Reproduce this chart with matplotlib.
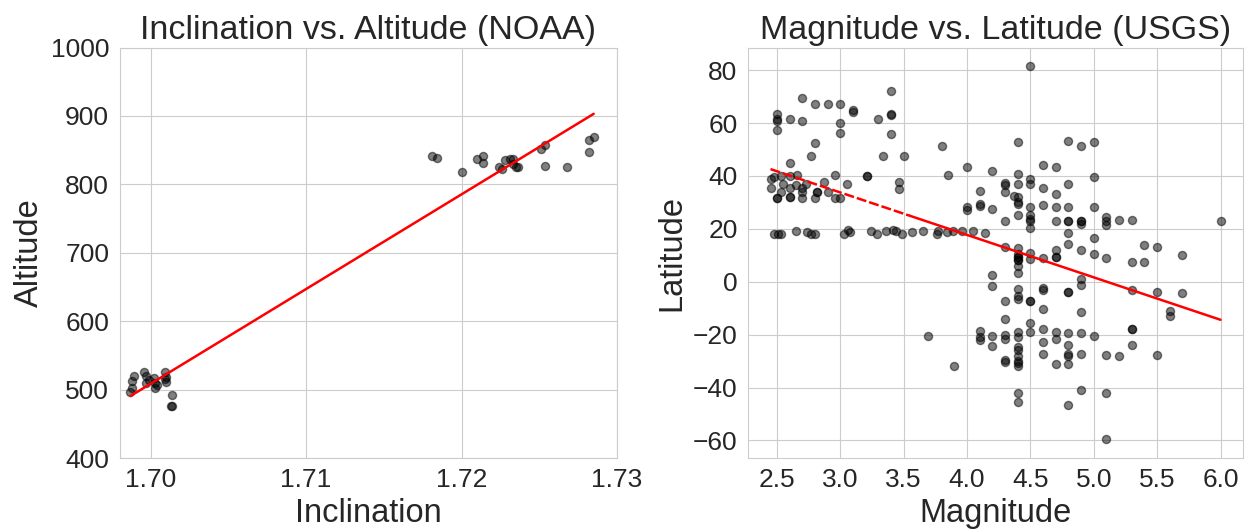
import numpy as np
import matplotlib
matplotlib.use("Agg")
import matplotlib.pyplot as plt
import seaborn as sns

# NOAA satellites: inclination vs altitude
noaa_incl = [1.6987, 1.6988, 1.6988, 1.6989, 1.6996, 1.6997, 1.6997, 1.6999, 1.7002, 1.7003,
             1.7003, 1.7004, 1.7009, 1.7010, 1.7010, 1.7009, 1.7014, 1.7013, 1.7014,
             1.7181, 1.7184, 1.7200, 1.7210, 1.7214, 1.7214, 1.7224, 1.7226, 1.7228, 1.7231,
             1.7233, 1.7233, 1.7235, 1.7236, 1.7251, 1.7254, 1.7254, 1.7268, 1.7282, 1.7285,
             1.7282]
noaa_alt = [496, 503, 512, 520, 525, 520, 510, 514, 517, 510,
            502, 506, 526, 518, 511, 515, 492, 476, 476,
            842, 839, 818, 837, 841, 831, 826, 822, 835, 837,
            837, 830, 826, 826, 851, 858, 827, 826, 865, 869,
            847]
noaa_fit = [13840.0, -23019.4]  # slope, intercept

# USGS earthquakes: magnitude vs latitude
usgs_mag = [2.50, 2.50, 2.50, 2.50, 2.60, 2.70, 2.70, 2.80, 2.90, 3.00, 3.00, 3.00, 3.10, 3.10,
            3.30, 3.40, 3.40, 3.40, 3.40, 2.80, 2.77, 2.60, 3.34, 3.50, 3.80, 3.85, 4.50,
            2.45, 2.45, 2.48, 2.53, 2.60, 2.66, 2.55, 2.60, 2.65, 2.70, 2.70, 2.70, 2.50, 2.50,
            2.60, 2.60, 2.80, 2.82, 2.82, 2.53, 2.73, 2.87, 2.90, 2.96, 2.96, 3.00, 3.05, 3.21,
            3.21, 3.46, 3.46,
            2.48, 2.51, 2.53, 2.65, 2.74, 2.77, 2.80, 3.03, 3.06, 3.08, 3.24, 3.29, 3.36, 3.42,
            3.44, 3.49, 3.57, 3.65, 3.76, 3.77, 3.84, 3.89, 3.96, 4.05, 4.14,
            4.40, 4.80, 4.90, 5.00, 4.00, 4.20, 4.40, 4.60, 4.70, 5.00, 4.50, 4.30, 4.30, 4.40,
            4.50, 4.80, 4.60, 4.10, 4.30, 4.70, 4.37, 4.40, 4.40, 4.40, 4.00, 4.00, 4.10, 4.10,
            4.20, 4.60, 4.70, 4.80, 5.00, 4.50, 4.40, 4.50, 4.50, 4.50, 4.30, 4.70, 4.80, 4.80,
            4.90, 4.90, 4.90, 5.10, 5.10, 5.10, 5.20, 5.30, 6.00, 4.50, 4.80, 5.00, 4.80, 4.90,
            5.00, 5.10, 5.30, 5.40, 5.40, 5.50, 5.70, 4.70, 4.70, 4.70, 4.60, 4.50, 4.50, 4.40,
            4.40, 4.40, 4.40, 4.40, 4.40, 4.40, 4.40, 4.30, 4.20, 4.90,
            3.69, 3.90, 4.20, 4.30, 4.30, 4.10, 4.10, 4.10, 4.20, 4.20, 4.30, 4.30, 4.30, 4.30,
            4.40, 4.40, 4.40, 4.40, 4.40, 4.40, 4.40, 4.40, 4.40, 4.40, 4.40, 4.40, 4.40, 4.50,
            4.50, 4.50, 4.50, 4.60, 4.60, 4.60, 4.60, 4.60, 4.60, 4.70, 4.70, 4.70, 4.80, 4.80,
            4.80, 4.80, 4.80, 4.80, 4.80, 4.80, 4.90, 4.90, 4.90, 4.90, 4.90, 5.00, 5.10, 5.10,
            5.10, 5.20, 5.30, 5.30, 5.30, 5.30, 5.50, 5.50, 5.60, 5.60, 5.70]
usgs_lat = [63.6, 61.7, 60.7, 57.5, 61.7, 69.5, 60.7, 67.3, 67.3, 67.3, 60.0, 56.2, 64.8, 64.0,
            61.7, 72.0, 63.6, 63.0, 55.9, 52.5, 47.7, 44.9, 47.4, 47.7, 51.5, 40.2, 81.5,
            39.0, 35.6, 39.6, 40.1, 40.1, 40.2, 36.8, 35.6, 36.4, 35.6, 33.9, 31.8, 31.8, 31.8,
            32.0, 32.0, 31.8, 33.9, 33.9, 33.9, 37.1, 37.7, 33.9, 40.2, 31.8, 31.8, 36.8, 40.1,
            40.1, 37.7, 35.1,
            17.9, 17.9, 18.2, 19.2, 18.8, 18.2, 18.2, 18.2, 19.4, 18.7, 19.0, 18.2, 19.0, 19.7,
            19.2, 18.2, 18.8, 19.0, 18.2, 19.2, 18.8, 19.0, 19.0, 19.0, 18.3,
            52.8, 53.2, 51.5, 52.8, 43.4, 42.0, 40.9, 44.0, 43.4, 39.6, 39.0, 37.5, 36.4, 36.8,
            37.1, 36.8, 35.6, 34.4, 33.9, 33.0, 32.5, 32.0, 30.1, 29.3, 28.2, 27.0, 29.3, 28.5,
            27.6, 29.0, 28.2, 28.2, 28.2, 28.2, 25.1, 25.1, 23.8, 23.0, 23.0, 23.0, 23.0, 23.0,
            23.0, 23.0, 21.9, 24.5, 23.0, 21.3, 23.2, 23.5, 23.1, 20.4, 18.4, 16.6, 14.1, 11.9,
            10.3, 9.1, 7.4, 13.9, 7.4, 13.1, 10.2, 11.9, 9.3, 9.3, 9.1, 10.8, 8.7, 12.7,
            10.3, 9.3, 9.3, 8.3, 8.3, 5.8, 3.3, 13.1, 2.6, 1.0,
            -20.6, -31.7, -1.6, -7.2, -14.0, -18.8, -20.9, -22.2, -20.6, -24.2, -20.0, -21.6, -29.5, -30.5,
            -2.6, -5.5, -6.4, -19.0, -20.9, -24.7, -25.7, -27.9, -29.8, -30.8, -32.0, -42.1, -45.5, -7.3,
            -7.3, -15.6, -19.0, -2.3, -3.3, -10.2, -17.8, -22.8, -27.5, -19.0, -21.6, -31.3, -3.9, -3.9,
            -19.4, -23.8, -27.5, -28.2, -31.3, -46.5, -1.4, -11.5, -19.4, -27.2, -41.1, -20.7, -27.6, -42.1,
            -59.6, -27.9, -3.0, -17.8, -17.8, -23.8, -3.8, -27.6, -11.2, -13.0, -4.2]
usgs_fit = [-16.05, 81.9]  # slope, intercept
usgs_dash_end = 3.55  # line looks dashed up to here in the original

sns.set_style("whitegrid")
plt.rcParams["font.family"] = ["Liberation Sans", "DejaVu Sans"]

W, H = 1252, 529
fig = plt.figure(figsize=(W / 100, H / 100), dpi=100)
ax1 = fig.add_axes([119.6 / W, 1 - 458 / H, (617 - 119.6) / W, (458 - 47.5) / H])
ax2 = fig.add_axes([748 / W, 1 - 458 / H, (1243 - 748) / W, (458 - 47.5) / H])

# left: NOAA
x1 = np.array(noaa_incl)
y1 = np.array(noaa_alt)
ax1.scatter(x1, y1, color="black", alpha=0.5, s=34)
xl = np.array([x1.min(), x1.max()])
ax1.plot(xl, noaa_fit[0] * xl + noaa_fit[1], color="red", lw=1.8)
ax1.set_xlim(1.698, 1.73)
ax1.set_ylim(400, 1000)
ax1.set_xticks([1.70, 1.71, 1.72, 1.73])
ax1.set_title("Inclination vs. Altitude (NOAA)", fontsize=24.5, color="#262626")
ax1.set_xlabel("Inclination", fontsize=23.5, color="#262626")
ax1.set_ylabel("Altitude", fontsize=23.5, color="#262626")

# right: USGS
x2 = np.array(usgs_mag)
y2 = np.array(usgs_lat)
ax2.scatter(x2, y2, color="black", alpha=0.5, s=34)
xa = np.array([x2.min(), usgs_dash_end])
xb = np.array([usgs_dash_end, x2.max()])
ax2.plot(xa, usgs_fit[0] * xa + usgs_fit[1], color="red", lw=1.8, ls=(0, (4, 1.2)))
ax2.plot(xb, usgs_fit[0] * xb + usgs_fit[1], color="red", lw=1.8)
ax2.set_xticks(np.arange(2.5, 6.01, 0.5))
ax2.set_yticks(np.arange(-60, 81, 20))
ax2.set_title("Magnitude vs. Latitude (USGS)", fontsize=24.5, color="#262626")
ax2.set_xlabel("Magnitude", fontsize=23.5, color="#262626")
ax2.set_ylabel("Latitude", fontsize=23.5, color="#262626")

for ax in (ax1, ax2):
    ax.tick_params(labelsize=19, colors="#262626", pad=4)

fig.savefig("out.png", dpi=100)
plt.close()
